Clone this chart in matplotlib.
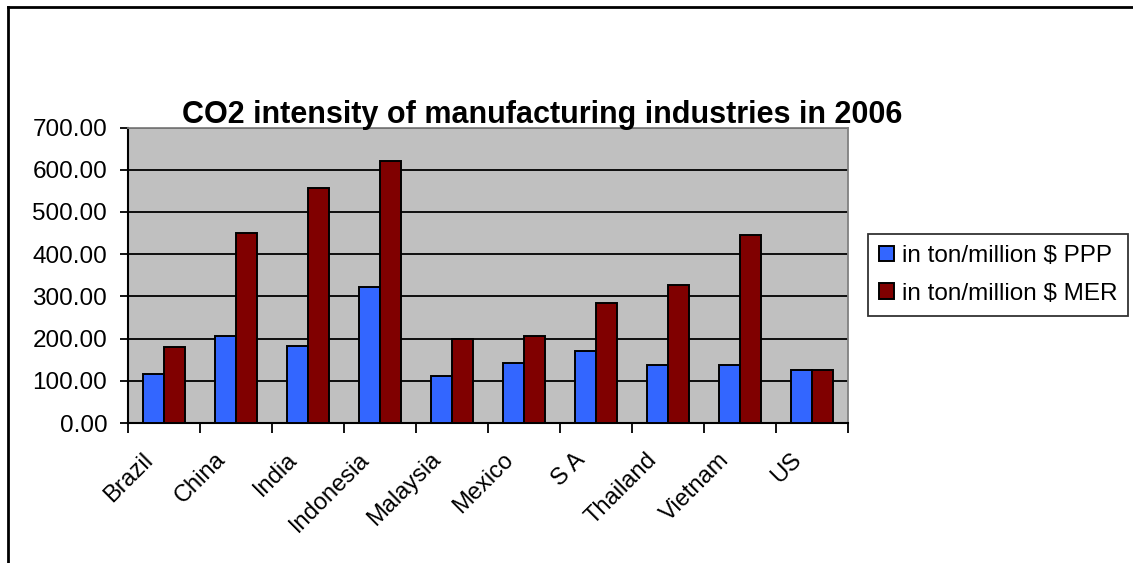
import matplotlib
matplotlib.use("Agg")
import matplotlib.pyplot as plt
import matplotlib.transforms as mtransforms
import numpy as np
from matplotlib.lines import Line2D

countries = ["Brazil", "China", "India", "Indonesia", "Malaysia", "Mexico",
             "S A", "Thailand", "Vietnam", "US"]
ppp = [115, 206, 183, 321, 111, 142, 171, 137, 137, 125]
mer = [179, 450, 556, 621, 198, 207, 285, 327, 445, 125]
series_labels = ["in ton/million $ PPP", "in ton/million $ MER"]
yticks = [0, 100, 200, 300, 400, 500, 600, 700]
title = "CO2 intensity of manufacturing industries in 2006"

plt.rcParams['font.family'] = ['Liberation Sans', 'DejaVu Sans']

W, H = 1133, 563
fig = plt.figure(figsize=(W / 100, H / 100), dpi=100)
ax = fig.add_axes([128 / W, 1 - 423 / H, (848 - 128) / W, (423 - 127.5) / H])

ax.set_facecolor("#C0C0C0")
x = np.arange(len(countries))
bw = 0.29
ax.bar(x - bw / 2, ppp, bw, color="#3366FF", edgecolor="black", linewidth=1.4,
       label=series_labels[0], zorder=3)
ax.bar(x + bw / 2, mer, bw, color="#800000", edgecolor="black", linewidth=1.4,
       label=series_labels[1], zorder=3)

ax.set_xlim(-0.5, len(countries) - 0.5)
ax.set_ylim(0, 700)
ax.set_yticks(yticks)
ax.set_yticklabels([f"{v:.2f}" for v in yticks], fontsize=17.5)
ax.yaxis.grid(True, color="black", linewidth=1.3, zorder=1)
ax.set_axisbelow(True)

ax.set_xticks(np.arange(len(countries) + 1) - 0.5)
ax.set_xticklabels([])
ax.set_xticks(x, minor=True)
ax.set_xticklabels(countries, minor=True, fontsize=17, rotation=45,
                   ha="right", rotation_mode="anchor")
ax.tick_params(axis="x", which="minor", length=0, pad=20)
ax.tick_params(axis="x", which="major", length=7, width=1.3, direction="out")
ax.tick_params(axis="y", length=6, width=1.3, direction="out", pad=9)

offset = mtransforms.ScaledTranslation(-22 / 100, 2 / 100, fig.dpi_scale_trans)
for lbl in ax.xaxis.get_minorticklabels():
    lbl.set_transform(lbl.get_transform() + offset)

for s in ["top", "right"]:
    ax.spines[s].set_color("#808080")
    ax.spines[s].set_linewidth(1.3)
for s in ["left", "bottom"]:
    ax.spines[s].set_color("black")
    ax.spines[s].set_linewidth(1.5)

fig.text(542 / W, 1 - 123 / H, title, ha="center", va="baseline",
         fontsize=22, fontweight="bold")

leg = fig.legend(loc="upper left", bbox_to_anchor=(868 / W, 1 - 234 / H),
                 fontsize=17.5, frameon=True, fancybox=False, edgecolor="black",
                 handlelength=0.6, handleheight=0.6, handletextpad=0.35,
                 borderpad=0.45, labelspacing=0.65, borderaxespad=0)
leg.get_frame().set_linewidth(1.3)

# outer chart border
fig.add_artist(Line2D([8 / W, 8 / W], [0, 1 - 6.5 / H], transform=fig.transFigure,
                      color="black", linewidth=2))
fig.add_artist(Line2D([8 / W, 1], [1 - 6.5 / H, 1 - 6.5 / H], transform=fig.transFigure,
                      color="black", linewidth=2))

fig.savefig("out.png", dpi=100)
